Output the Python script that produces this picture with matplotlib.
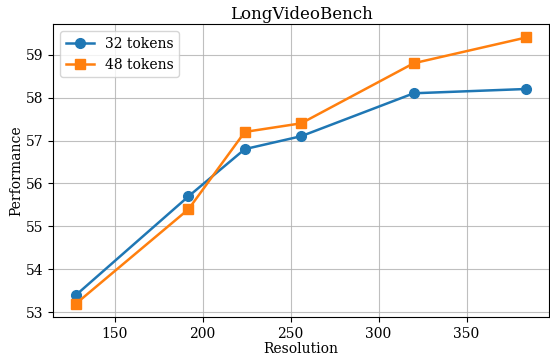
import matplotlib
matplotlib.use("Agg")
import matplotlib.pyplot as plt

resolution = [128, 192, 224, 256, 320, 384]
tokens32 = [53.4, 55.7, 56.8, 57.1, 58.1, 58.2]
tokens48 = [53.2, 55.4, 57.2, 57.4, 58.8, 59.4]

plt.rcParams['font.family'] = 'DejaVu Serif'
fig, ax = plt.subplots(figsize=(5.5, 3.55), dpi=100)
ax.plot(resolution, tokens32, marker='o', color='#1f77b4', label='32 tokens', linewidth=1.8, markersize=7)
ax.plot(resolution, tokens48, marker='s', color='#ff7f0e', label='48 tokens', linewidth=1.8, markersize=7)
ax.set_title('LongVideoBench', fontsize=12, pad=4)
ax.set_xlabel('Resolution', fontsize=10, labelpad=1)
ax.set_ylabel('Performance', fontsize=10, labelpad=2)
ax.grid(True, color='#b0b0b0', alpha=0.8)
ax.legend(loc='upper left', fontsize=10, handlelength=2.0)
ax.tick_params(labelsize=10)
fig.subplots_adjust(left=0.097, right=0.998, top=0.932, bottom=0.107)
fig.savefig('out.png')
